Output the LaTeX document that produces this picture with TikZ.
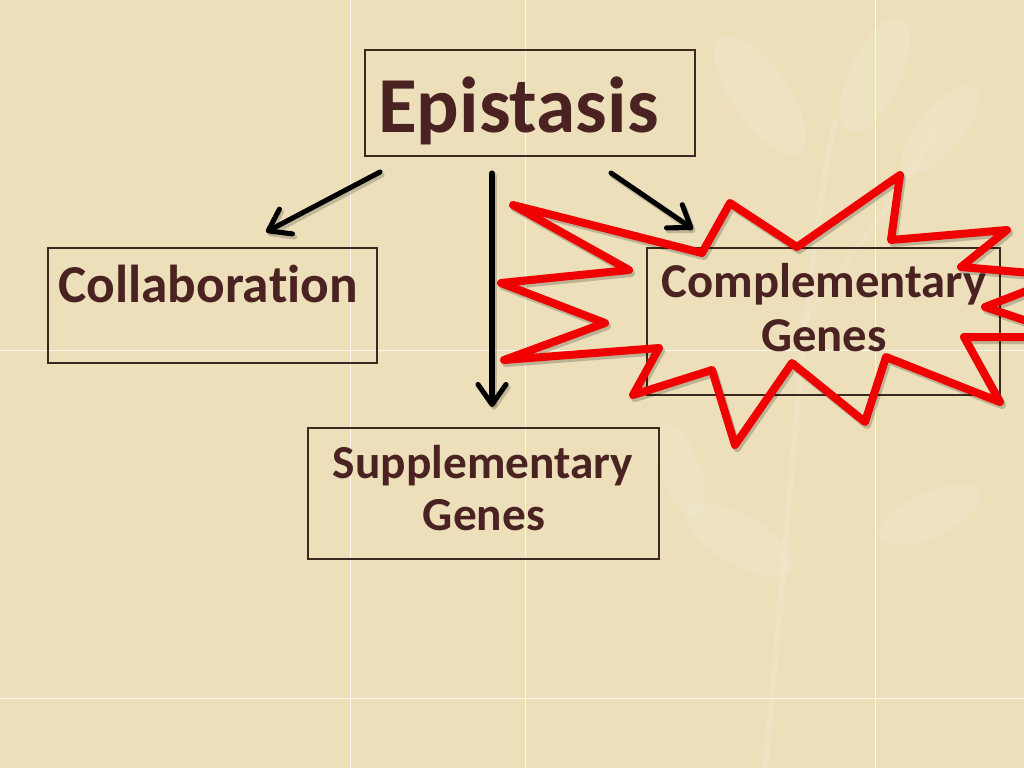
\documentclass[tikz,border=0pt]{standalone}
\usepackage{fontspec}
\setmainfont{Carlito}[Ligatures=NoCommon]
\usetikzlibrary{arrows.meta,fit}
\definecolor{parch}{RGB}{236,223,186}
\definecolor{ink}{RGB}{74,34,34}
\definecolor{burstred}{RGB}{240,0,0}
\definecolor{boxline}{RGB}{60,40,30}
\newcommand{\myburstpath}{(513,205) -- (629,270) -- (501,283) -- (605,323) -- (504,360)
  -- (659,348) -- (633,395) -- (712,370) -- (735,445) -- (792,363)
  -- (865,422) -- (886,357) -- (1000,402) -- (964,337) -- (1075,337)
  -- (985,307) -- (1065,276) -- (961,267) -- (1007,230) -- (891,240)
  -- (900,175) -- (797,247) -- (730,203) -- (702,253) -- cycle}
\begin{document}
\begin{tikzpicture}[x=0.75pt,y=-0.75pt,
  box/.style={draw=boxline, line width=0.9pt, inner sep=0pt},
  lbl/.style={text=ink, inner sep=0pt, anchor=base},
  arrtip/.style={-{Straight Barb[length=15pt,width=21pt,line cap=round,line join=round]}},
  arr/.style={line width=3.8pt, line cap=round, black, arrtip},
  arrshadow/.style={line width=3.8pt, line cap=round, black, opacity=0.18, arrtip},
  burst/.style={draw=burstred, line width=6pt, line join=round, line cap=round},
  burstshadow/.style={draw=black, opacity=0.2, line width=6pt, line join=round, line cap=round},
  grid/.style={white, opacity=0.75, line width=0.75pt},
  leaf/.style={fill=white, opacity=0.1}
]
\useasboundingbox (0,0) rectangle (1024,768);
\fill[parch] (0,0) rectangle (1024,768);
% faint leaf watermark
\draw[white, opacity=0.12, line width=5pt] (765,768) .. controls (790,520) and (800,300) .. (835,120);
\draw[white, opacity=0.12, line width=4pt] (800,330) .. controls (850,250) and (900,200) .. (935,130);
\fill[leaf, rotate around={35:(760,95)}] (760,95) ellipse (28 and 70);
\fill[leaf, rotate around={-25:(875,75)}] (875,75) ellipse (26 and 62);
\fill[leaf, rotate around={-40:(940,130)}] (940,130) ellipse (22 and 55);
\fill[leaf, rotate around={60:(740,540)}] (740,540) ellipse (25 and 60);
\fill[leaf, rotate around={-65:(930,515)}] (930,515) ellipse (22 and 55);
\fill[leaf, rotate around={20:(680,470)}] (680,470) ellipse (20 and 50);
% faint grid
\draw[grid] (350,0) -- (350,768);
\draw[grid] (525,0) -- (525,768);
\draw[grid] (875,0) -- (875,768);
\draw[grid] (0,350) -- (1024,350);
\draw[grid] (0,698) -- (1024,698);

% boxes
\node[box, fit={(365,50)(695,156)}] (epi) {};
\node[box, fit={(48,248)(377,363)}] (col) {};
\node[box, fit={(308,428)(659,559)}] (sup) {};
\node[box, fit={(647,248)(1000,395)}] (com) {};

% labels
\node[lbl, anchor=base west, font=\fontsize{59.5}{62}\selectfont\bfseries] (epiT) at (378,132) {Epistasis};
\node[lbl, anchor=base west, font=\fontsize{40}{44}\selectfont\bfseries] (colT) at (58,302) {Collabora\kern0pt tion};
\node[lbl, font=\fontsize{35.5}{40}\selectfont\bfseries] (supT1) at (483,478) {Supplementary};
\node[lbl, font=\fontsize{35.5}{40}\selectfont\bfseries] (supT2) at (484,530) {Genes};
\node[lbl, font=\fontsize{36.5}{40}\selectfont\bfseries] (comT1) at (824,297) {Complementary};
\node[lbl, font=\fontsize{36.5}{40}\selectfont\bfseries] (comT2) at (824,351) {Genes};

% arrows
\coordinate (a1s) at (380,172);
\coordinate (a1e) at (266,232);
\coordinate (a2s) at (492,173);
\coordinate (a2e) at (492,407);
\coordinate (a3s) at (611,173);
\coordinate (a3e) at (693,229);
\draw[arrshadow] ([shift={(2,3)}]a1s) -- ([shift={(2,3)}]a1e);
\draw[arrshadow] ([shift={(2,3)}]a2s) -- ([shift={(2,3)}]a2e);
\draw[arrshadow] ([shift={(2,3)}]a3s) -- ([shift={(2,3)}]a3e);
\draw[arr] (a1s) -- (a1e);
\draw[arr] (a2s) -- (a2e);
\draw[arr] (a3s) -- (a3e);

% red burst
\begin{scope}
\clip (0,0) rectangle (1024,768);
\begin{scope}[shift={(2,3)}]
\draw[burstshadow] \myburstpath;
\end{scope}
\draw[burst] \myburstpath;
\end{scope}
\end{tikzpicture}
\end{document}
